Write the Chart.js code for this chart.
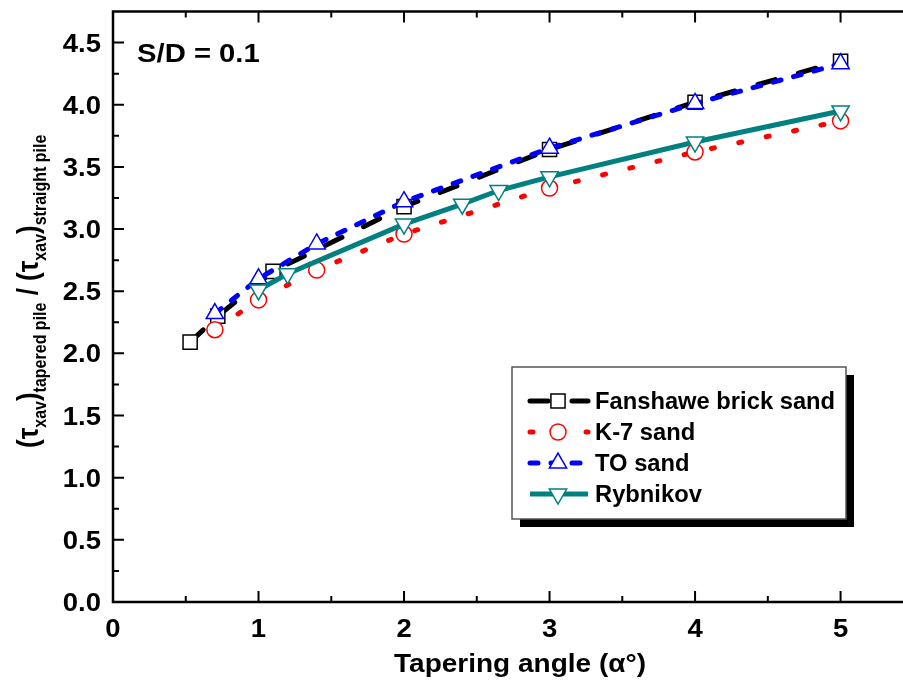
<!DOCTYPE html>
<html>
<head>
<meta charset="utf-8">
<script src="https://cdn.jsdelivr.net/npm/chart.js@4"></script>
<style>
  body { margin: 0; background: #fff; }
  canvas { display: block; }
</style>
</head>
<body>
<canvas id="chart" width="903" height="681"></canvas>
<script>
// data
const fanshaweX = [0.53, 0.72, 1.1, 2.0, 3.0, 4.0, 5.0];
const fanshaweY = [2.09, 2.30, 2.66, 3.18, 3.64, 4.02, 4.35];
const k7X = [0.7, 1.0, 1.4, 2.0, 3.0, 4.0, 5.0];
const k7Y = [2.19, 2.43, 2.67, 2.96, 3.33, 3.62, 3.87];
const toX = [0.7, 1.0, 1.4, 2.0, 3.0, 4.0, 5.0];
const toY = [2.32, 2.60, 2.88, 3.22, 3.65, 4.01, 4.33];
const rybX = [1.0, 1.2, 2.0, 2.4, 2.65, 3.0, 4.0, 5.0];
const rybY = [2.51, 2.64, 3.04, 3.20, 3.31, 3.42, 3.70, 3.95];

const xTicks = [0, 1, 2, 3, 4, 5];
const xMinor = [0.5, 1.5, 2.5, 3.5, 4.5];
const yTicks = ["0.0", "0.5", "1.0", "1.5", "2.0", "2.5", "3.0", "3.5", "4.0", "4.5"];
const yMinor = [0.25, 0.75, 1.25, 1.75, 2.25, 2.75, 3.25, 3.75, 4.25];

const seriesNames = ["Fanshawe brick sand", "K-7 sand", "TO sand", "Rybnikov"];

function toPoints(xs, ys) {
  return xs.map((x, i) => ({ x: x, y: ys[i] }));
}

const FONT = '"Liberation Sans", Arial, sans-serif';

// the original figure is stretched sideways a little, so text is too
function wideText(ctx, text, x, y, size, sx, align) {
  ctx.save();
  ctx.font = "bold " + size + "px " + FONT;
  ctx.translate(x, y);
  ctx.scale(sx, 1);
  ctx.textAlign = align;
  ctx.textBaseline = "alphabetic";
  ctx.fillText(text, 0, 0);
  ctx.restore();
}

const datasets = [
  {
    label: seriesNames[0],
    data: toPoints(fanshaweX, fanshaweY),
    borderColor: "#000000",
    borderWidth: 5,
    borderDash: [18, 24],
    borderCapStyle: "round",
    pointStyle: "rect",
    pointRadius: 10,
    pointBorderWidth: 1.5,
    pointBorderColor: "#000000",
    pointBackgroundColor: "#ffffff",
    order: 4
  },
  {
    label: seriesNames[1],
    data: toPoints(k7X, k7Y),
    borderColor: "#ff0000",
    borderWidth: 5,
    borderDash: [3, 25],
    borderCapStyle: "round",
    pointStyle: "circle",
    pointRadius: 8,
    pointBorderWidth: 1.5,
    pointBorderColor: "#ff0000",
    pointBackgroundColor: "#ffffff",
    order: 3
  },
  {
    label: seriesNames[2],
    data: toPoints(toX, toY),
    borderColor: "#0000ff",
    borderWidth: 5,
    borderDash: [8, 13],
    borderCapStyle: "round",
    pointStyle: "triangle",
    pointRadius: 10,
    pointBorderWidth: 1.5,
    pointBorderColor: "#0000ff",
    pointBackgroundColor: "#ffffff",
    order: 2
  },
  {
    label: seriesNames[3],
    data: toPoints(rybX, rybY),
    borderColor: "#008080",
    borderWidth: 5,
    pointStyle: "triangle",
    pointRotation: 180,
    pointRadius: 10,
    pointBorderWidth: 1.5,
    pointBorderColor: "#008080",
    pointBackgroundColor: "#ffffff",
    order: 1
  }
];

const decorations = {
  id: "decorations",
  afterDraw(chart) {
    const ctx = chart.ctx;
    const xs = chart.scales.x;
    const ys = chart.scales.y;
    const a = chart.chartArea;
    const edge = chart.width + 5;

    ctx.save();
    ctx.strokeStyle = "#000";
    ctx.fillStyle = "#000";
    ctx.lineWidth = 2.5;
    ctx.lineCap = "butt";

    // frame (right side runs off the picture)
    ctx.beginPath();
    ctx.moveTo(edge, a.top);
    ctx.lineTo(a.left, a.top);
    ctx.lineTo(a.left, a.bottom);
    ctx.lineTo(edge, a.bottom);
    ctx.stroke();

    // ticks (inside)
    ctx.lineWidth = 2;
    ctx.beginPath();
    xTicks.forEach(v => {
      const px = xs.getPixelForValue(v);
      ctx.moveTo(px, a.bottom); ctx.lineTo(px, a.bottom - 11);
      ctx.moveTo(px, a.top); ctx.lineTo(px, a.top + 11);
    });
    xMinor.forEach(v => {
      const px = xs.getPixelForValue(v);
      ctx.moveTo(px, a.bottom); ctx.lineTo(px, a.bottom - 6);
      ctx.moveTo(px, a.top); ctx.lineTo(px, a.top + 6);
    });
    yTicks.forEach(t => {
      const py = ys.getPixelForValue(parseFloat(t));
      ctx.moveTo(a.left, py); ctx.lineTo(a.left + 11, py);
    });
    yMinor.forEach(v => {
      const py = ys.getPixelForValue(v);
      ctx.moveTo(a.left, py); ctx.lineTo(a.left + 6, py);
    });
    ctx.stroke();

    // tick labels
    xTicks.forEach(v => {
      wideText(ctx, String(v), xs.getPixelForValue(v), 637, 25, 1.1, "center");
    });
    yTicks.forEach(t => {
      wideText(ctx, t, 101, ys.getPixelForValue(parseFloat(t)) + 9, 25, 1.1, "right");
    });

    // x title
    wideText(ctx, "Tapering angle (\u03b1\u00b0)", 520, 672, 25, 1.12, "center");

    // y title, rotated, with subscripts
    ctx.save();
    ctx.translate(38, 448);
    ctx.rotate(-Math.PI / 2);
    ctx.scale(1, 1.15);
    const parts = [
      ["(\u03c4", 26, 0], ["xav", 16, 7], [")", 26, 0], ["tapered pile", 16, 7],
      [" / ", 26, 0], ["(\u03c4", 26, 0], ["xav", 16, 7], [")", 26, 0], ["straight pile", 16, 7]
    ];
    let cx = 0;
    ctx.textAlign = "left";
    ctx.textBaseline = "alphabetic";
    parts.forEach(p => {
      ctx.font = "bold " + p[1] + "px " + FONT;
      ctx.fillText(p[0], cx, p[2]);
      cx += ctx.measureText(p[0]).width;
    });
    ctx.restore();

    // annotation
    wideText(ctx, "S/D = 0.1", 137, 62, 25, 1.17, "left");

    // legend box with drop shadow
    const bx = 512, by = 367, bw = 334, bh = 152;
    ctx.fillStyle = "#000";
    ctx.fillRect(bx + 8, by + 8, bw, bh);
    ctx.fillStyle = "#fff";
    ctx.fillRect(bx, by, bw, bh);
    ctx.strokeStyle = "#555";
    ctx.lineWidth = 1.5;
    ctx.strokeRect(bx, by, bw, bh);

    const rowY = [401, 432, 463, 494];
    chart.data.datasets.forEach((ds, i) => {
      const y = rowY[i];
      ctx.save();
      ctx.strokeStyle = ds.borderColor;
      ctx.lineWidth = ds.borderWidth;
      ctx.lineCap = ds.borderCapStyle || "butt";
      ctx.setLineDash(ds.borderDash || []);
      ctx.beginPath();
      ctx.moveTo(530, y);
      ctx.lineTo(588, y);
      ctx.stroke();
      ctx.setLineDash([]);
      ctx.fillStyle = ds.pointBackgroundColor;
      ctx.strokeStyle = ds.pointBorderColor;
      ctx.lineWidth = ds.pointBorderWidth;
      Chart.helpers.drawPoint(ctx, {
        pointStyle: ds.pointStyle,
        radius: ds.pointRadius,
        rotation: ds.pointRotation || 0,
        borderWidth: ds.pointBorderWidth
      }, 558, y);
      ctx.restore();
      ctx.fillStyle = "#000";
      wideText(ctx, ds.label, 595, y + 8, 23.5, 1.01, "left");
    });

    ctx.restore();
  }
};

new Chart(document.getElementById("chart"), {
  type: "scatter",
  data: { datasets: datasets.map(d => Object.assign({ showLine: true, fill: false, tension: 0 }, d)) },
  options: {
    responsive: false,
    animation: false,
    layout: { padding: { left: 0, top: 9, right: 0, bottom: 0 } },
    plugins: { legend: { display: false }, tooltip: { enabled: false } },
    scales: {
      x: {
        type: "linear",
        min: 0,
        max: 5.35,
        grid: { display: false },
        border: { display: false },
        ticks: { display: false },
        afterFit(scale) { scale.height = 79; }
      },
      y: {
        type: "linear",
        min: 0,
        max: 4.75,
        grid: { display: false },
        border: { display: false },
        ticks: { display: false },
        afterFit(scale) { scale.width = 113; }
      }
    }
  },
  plugins: [decorations]
});
</script>
</body>
</html>
